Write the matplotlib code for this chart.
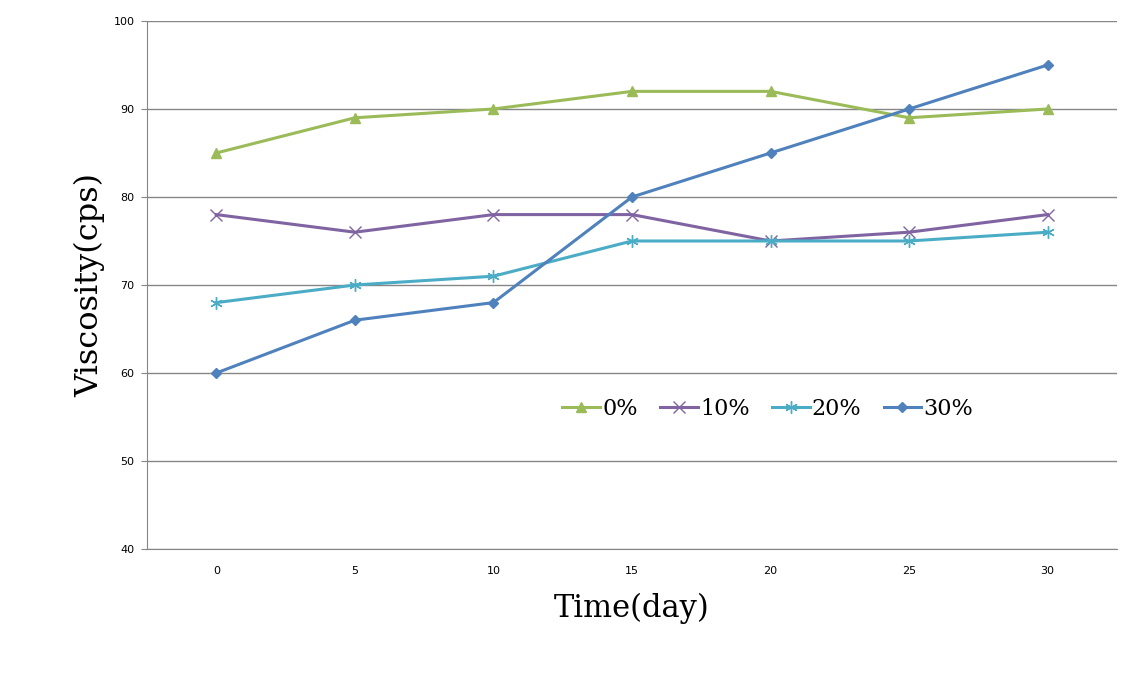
import numpy as np
import matplotlib
matplotlib.use("Agg")
import matplotlib.pyplot as plt

# time (day) categories and viscosity readings
days = ["0", "5", "10", "15", "20", "25", "30"]
v0 = [85, 89, 90, 92, 92, 89, 90]
v10 = [78, 76, 78, 78, 75, 76, 78]
v20 = [68, 70, 71, 75, 75, 75, 76]
v30 = [60, 66, 68, 80, 85, 90, 95]
labels = ["0%", "10%", "20%", "30%"]

fig = plt.figure(figsize=(11.45, 6.92), dpi=100)
ax = fig.add_axes([0.1284, 0.2066, 0.8471, 0.7631])

x = np.arange(len(days))
ax.plot(x, v0, color="#9BBB59", lw=2.2, marker="^", ms=7, label=labels[0])
ax.plot(x, v10, color="#8064A2", lw=2.2, marker="x", ms=8, mew=1.0, label=labels[1])
ax.plot(x, v20, color="#4BACC6", lw=2.2, marker=(6, 2, 0), ms=9, mew=1.0, label=labels[2])
ax.plot(x, v30, color="#4F81BD", lw=2.2, marker="D", ms=5.5, label=labels[3])

ax.set_xlim(-0.5, 6.5)
ax.set_ylim(40, 100)
ax.set_yticks(range(40, 101, 10))
ax.set_xticks(x)
ax.set_xticklabels(days)
ax.yaxis.grid(True, color="#868686", lw=1)
ax.set_axisbelow(True)
for s in ["top", "right"]:
    ax.spines[s].set_visible(False)
for s in ["left", "bottom"]:
    ax.spines[s].set_color("#868686")
ax.tick_params(axis="y", length=4, color="#868686", labelsize=8, pad=5)
ax.tick_params(axis="x", length=0, labelsize=8, pad=12)

ax.set_xlabel("Time(day)", family="DejaVu Serif", fontsize=22, labelpad=12)
ax.set_ylabel("Viscosity(cps)", family="DejaVu Serif", fontsize=23, labelpad=6)

ax.legend(loc="center", bbox_to_anchor=(0.64, 0.266), ncol=4, frameon=False,
          prop={"family": "DejaVu Serif", "size": 16}, handlelength=1.7,
          handletextpad=0.1, columnspacing=1.0)

fig.savefig("out.png", dpi=100)
